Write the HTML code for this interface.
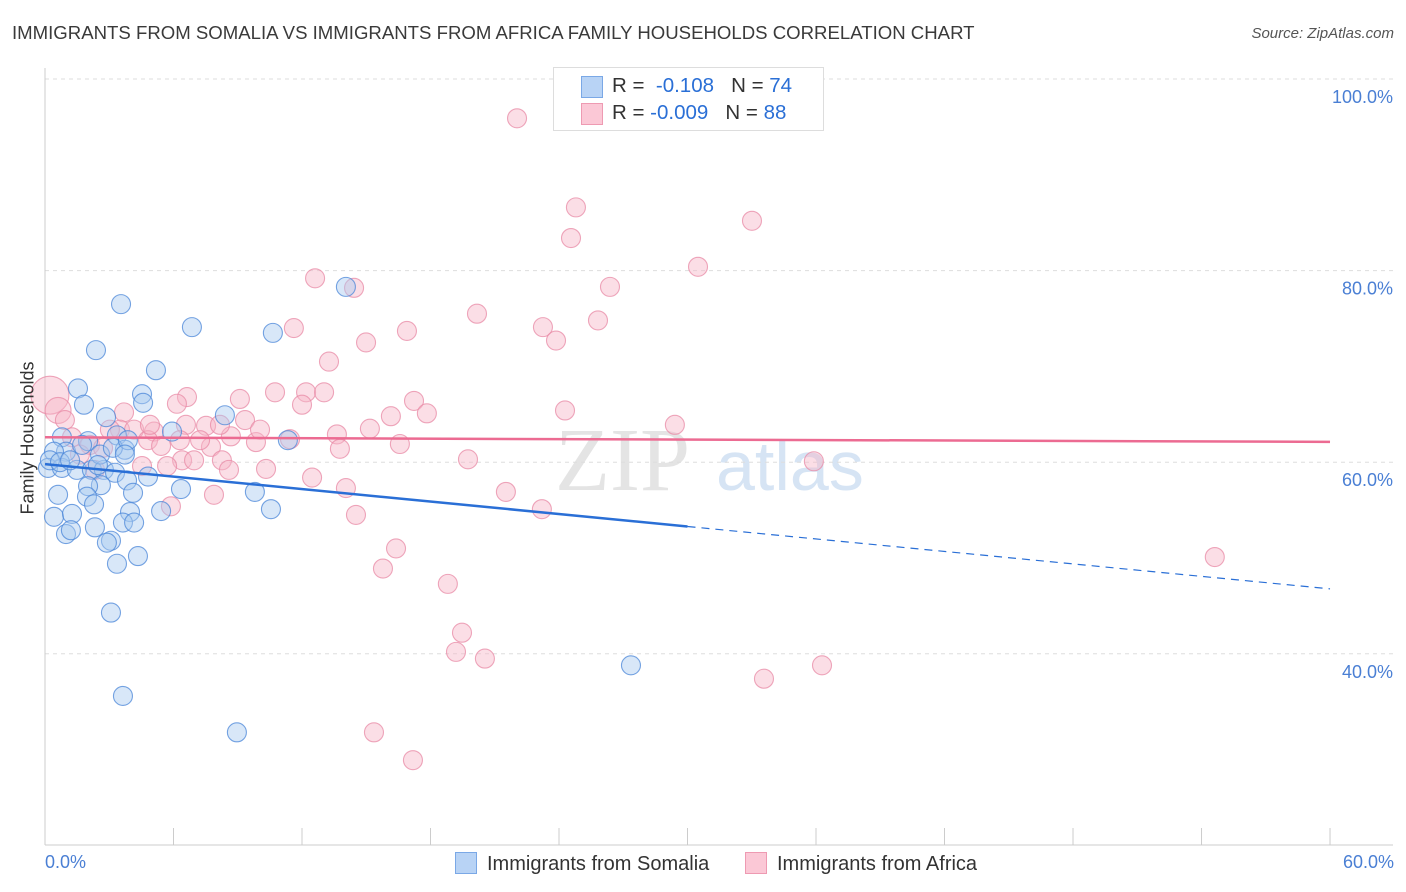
<!DOCTYPE html>
<html><head><meta charset="utf-8"><style>
body{margin:0;background:#fff;font-family:"Liberation Sans",sans-serif;}
#wrap{position:relative;width:1406px;height:892px;overflow:hidden;}
.t{position:absolute;white-space:nowrap;}
</style></head><body>
<div id="wrap">
<div class="t" style="left:12px;top:22px;font-size:18.6px;color:#3a3a3a;">IMMIGRANTS FROM SOMALIA VS IMMIGRANTS FROM AFRICA FAMILY HOUSEHOLDS CORRELATION CHART</div>
<div class="t" style="right:12px;top:25px;font-size:15px;color:#555;font-style:italic;">Source: ZipAtlas.com</div>
<svg id="svg" width="1406" height="892" style="position:absolute;left:0;top:0"></svg>
</div>
<script>
const xTicks=[6,12,18,24,30,36,42,48,54,60];
const yTicks=[40,60,80,100];
const blueX=[14.05,3.55,6.86,10.64,2.38,5.18,1.54,4.53,1.82,4.58,2.85,8.40,5.93,3.36,0.79,2.01,11.34,3.73,0.98,0.42,0.14,0.79,1.49,2.19,2.75,3.27,4.81,3.83,2.61,2.01,6.35,9.80,4.11,0.61,1.96,2.29,3.97,5.42,10.55,0.42,1.26,2.33,3.64,4.16,0.98,1.21,3.08,2.89,4.34,3.36,3.08,27.36,3.64,8.96,0.23,0.70,1.17,1.73,2.57,3.17,3.87,2.47,3.73];
const blueY=[78.3,76.5,74.1,73.5,71.7,69.6,67.7,67.1,66.0,66.2,64.7,64.9,63.2,62.8,62.6,62.2,62.3,61.3,61.1,61.1,59.4,59.4,59.2,59.2,59.2,58.9,58.5,58.1,57.6,57.5,57.2,56.9,56.8,56.6,56.4,55.6,54.8,54.9,55.1,54.3,54.6,53.2,53.7,53.7,52.5,52.9,51.8,51.6,50.2,49.4,44.3,38.8,35.6,31.8,60.2,60.0,60.2,61.8,60.8,61.5,62.3,59.7,60.8];
const pinkX=[22.04,24.79,33.01,24.56,30.49,12.61,14.43,26.38,20.17,25.82,11.62,23.25,16.90,23.86,14.99,13.26,6.63,10.74,9.10,12.19,13.03,6.16,17.23,12.00,3.69,16.15,17.83,24.28,9.34,7.52,29.41,3.50,4.16,5.09,6.58,8.68,4.81,13.63,15.17,11.44,9.85,7.75,5.42,16.57,13.77,8.26,6.40,6.96,19.75,35.90,4.53,5.70,10.32,8.59,12.47,14.05,7.89,21.52,5.88,14.52,23.20,16.39,15.78,18.81,54.62,19.47,19.19,20.54,36.28,33.57,15.36,17.18,0.23,0.61,0.93,1.26,2.10,2.71,1.63,3.03,7.24,4.90,10.04,8.17,2.33,6.30];
const pinkY=[95.9,86.6,85.2,83.4,80.4,79.2,78.2,78.3,75.5,74.8,74.0,74.1,73.7,72.7,72.5,70.5,66.8,67.3,66.6,67.3,67.3,66.1,66.4,66.0,65.2,64.8,65.1,65.4,64.4,63.8,63.9,63.4,63.4,63.2,63.9,62.7,62.3,62.9,63.5,62.4,62.1,61.6,61.7,61.9,61.4,60.2,60.2,60.2,60.3,60.1,59.6,59.6,59.3,59.2,58.4,57.3,56.6,56.9,55.4,54.5,55.1,51.0,48.9,47.3,50.1,42.2,40.2,39.5,38.8,37.4,31.8,28.9,67.0,65.4,64.4,62.6,61.8,61.5,60.8,63.4,62.3,63.9,63.4,63.9,59.2,62.3];
const pinkBig=[0,0,0,0,0,0,0,0,0,0,0,0,0,0,0,0,0,0,0,0,0,0,0,0,0,0,0,0,0,0,0,0,0,0,0,0,0,0,0,0,0,0,0,0,0,0,0,0,0,0,0,0,0,0,0,0,0,0,0,0,0,0,0,0,0,0,0,0,0,0,0,0,2,1,0,0,0,0,0,0,0,0,0,0,0,0];
const blueTrend=[59.8,-0.217];
const pinkTrend=[62.6,-0.008];
const X=v=>45+v*21.417, Y=v=>79+(100-v)*9.58;
const svg=document.getElementById('svg');const NS='http://www.w3.org/2000/svg';
function mk(t,a,p){const e=document.createElementNS(NS,t);for(const k in a)e.setAttribute(k,a[k]);(p||svg).appendChild(e);return e;}
let wm=mk('text',{x:555,y:490,'font-size':90,'font-family':'Liberation Serif',fill:'#e4e4e4'});wm.textContent='ZIP';


let wm2=mk('text',{x:716,y:490,'font-size':70,'font-family':'Liberation Sans',fill:'#d6e4f4'});wm2.textContent='atlas';


yTicks.forEach(v=>{const l=mk('line',{x1:45,x2:1393,y1:Y(v),y2:Y(v),stroke:'#ddd','stroke-dasharray':'4,4'});


const t=mk('text',{x:1393,y:Y(v)+24,'text-anchor':'end','font-size':18,fill:'#4a7fd4','font-family':'Liberation Sans'});t.textContent=v.toFixed(1)+'%';

});
mk('line',{x1:45,x2:45,y1:68,y2:845,stroke:'#ccc'});
mk('line',{x1:45,x2:1393,y1:845,y2:845,stroke:'#ccc'});
xTicks.forEach(v=>{const l=mk('line',{x1:X(v),x2:X(v),y1:828,y2:845,stroke:'#ccc'});

});
function dots(xs,ys,fill,stroke,nm,big){xs.forEach((x,i)=>{const r=big&&big[i]?(big[i]==2?19:13):9.5;const c=mk('circle',{cx:X(x),cy:Y(ys[i]),r:r,fill:fill,'fill-opacity':0.45,stroke:stroke,'stroke-opacity':0.75,'stroke-width':1.1});

});}
dots(pinkX,pinkY,'#f7b6c8','#e88aa6','africa-point',pinkBig);
dots(blueX,blueY,'#a9c9f0','#4a86d8','somalia-point',null);
let bl=mk('line',{x1:X(0),y1:Y(blueTrend[0]),x2:X(30),y2:Y(blueTrend[0]+blueTrend[1]*30),stroke:'#2a6fd6','stroke-width':2.5});


let bd=mk('line',{x1:X(30),y1:Y(blueTrend[0]+blueTrend[1]*30),x2:X(60),y2:Y(blueTrend[0]+blueTrend[1]*60),stroke:'#2a6fd6','stroke-width':1.2,'stroke-dasharray':'8,6'});


let pl=mk('line',{x1:X(0),y1:Y(pinkTrend[0]),x2:X(60),y2:Y(pinkTrend[0]+pinkTrend[1]*60),stroke:'#ec6b92','stroke-width':2.5});


</script>
<div class="t" style="left:-32px;top:444px;font-size:18px;color:#333;transform:rotate(-90deg);transform-origin:center;width:120px;text-align:center;">Family Households</div>
<div class="t" style="left:45px;top:852px;font-size:18px;color:#4a7fd4;">0.0%</div>
<div class="t" style="right:12px;top:852px;font-size:18px;color:#4a7fd4;">60.0%</div>
<div style="position:absolute;left:553px;top:67px;width:269px;height:62px;border:1px solid #ddd;background:#fff;font-size:20.5px;color:#333;">
 <div style="position:absolute;left:27px;top:8px;width:20px;height:20px;background:#b8d3f5;border:1px solid #7aa8e6"></div>
 <div class="t" style="left:58px;top:6px">R = <span style="color:#2a6fd6">&nbsp;-0.108</span>&nbsp;&nbsp;&nbsp;N = <span style="color:#2a6fd6">74</span></div>
 <div style="position:absolute;left:27px;top:35px;width:20px;height:20px;background:#fbc8d6;border:1px solid #ee9ab2"></div>
 <div class="t" style="left:58px;top:33px">R = <span style="color:#2a6fd6">-0.009</span>&nbsp;&nbsp;&nbsp;N = <span style="color:#2a6fd6">88</span></div>
</div>
<div style="position:absolute;left:455px;top:852px;font-size:20px;color:#333;">
 <span style="display:inline-block;width:20px;height:20px;background:#b8d3f5;border:1px solid #7aa8e6;vertical-align:-4px;margin-right:10px"></span>Immigrants from Somalia</div>
<div style="position:absolute;left:745px;top:852px;font-size:20px;color:#333;">
 <span style="display:inline-block;width:20px;height:20px;background:#fbc8d6;border:1px solid #ee9ab2;vertical-align:-4px;margin-right:10px"></span>Immigrants from Africa</div>
</body></html>
